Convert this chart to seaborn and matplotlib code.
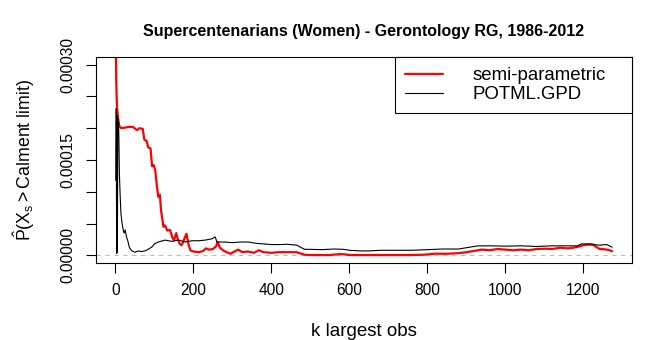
import numpy as np
import pandas as pd
import matplotlib
matplotlib.use("Agg")
import matplotlib.pyplot as plt
import seaborn as sns

# ---- data ----
k_semi = [1, 2, 3, 4, 6, 8, 10, 15, 25, 35, 45, 55, 62, 70, 74, 80, 84, 90, 94, 98,
          102, 106, 110, 114, 117, 120, 123, 127, 133, 140, 146, 150, 156, 160, 165,
          170, 176, 182, 187, 192, 200, 215, 225, 232, 240, 250, 258, 262, 268, 276,
          285, 295, 305, 315, 325, 340, 355, 368, 380, 400, 420, 440, 465, 485, 500,
          550, 575, 590, 600, 650, 700, 750, 790, 820, 850, 880, 900, 920, 940, 960,
          980, 1000, 1020, 1040, 1060, 1080, 1105, 1120, 1140, 1160, 1174, 1190, 1200,
          1215, 1225, 1242, 1255, 1265, 1274]
semi_parametric = [3.4e-4, 2.75e-4, 2.5e-4, 2.35e-4, 2.2e-4, 2.1e-4, 2.03e-4, 2.0e-4,
                   2.01e-4, 2.02e-4, 2.02e-4, 1.97e-4, 2.0e-4, 1.99e-4, 1.82e-4, 1.80e-4,
                   1.70e-4, 1.68e-4, 1.40e-4, 1.42e-4, 1.34e-4, 1.10e-4, 0.92e-4,
                   0.95e-4, 0.70e-4, 0.58e-4, 0.45e-4, 0.47e-4, 0.39e-4, 0.40e-4,
                   0.28e-4, 0.24e-4, 0.35e-4, 0.25e-4, 0.18e-4, 0.16e-4, 0.25e-4,
                   0.34e-4, 0.18e-4, 0.08e-4, 0.06e-4, 0.05e-4, 0.07e-4, 0.11e-4,
                   0.09e-4, 0.10e-4, 0.14e-4, 0.21e-4, 0.12e-4, 0.08e-4, 0.05e-4,
                   0.025e-4, 0.06e-4, 0.09e-4, 0.05e-4, 0.06e-4, 0.04e-4, 0.08e-4,
                   0.05e-4, 0.04e-4, 0.05e-4, 0.05e-4, 0.05e-4, 0.01e-4, 0.005e-4,
                   0.005e-4, 0.02e-4, 0.015e-4, 0.005e-4, 0.005e-4, 0.005e-4, 0.005e-4,
                   0.01e-4, 0.026e-4, 0.025e-4, 0.035e-4, 0.05e-4, 0.07e-4, 0.09e-4,
                   0.08e-4, 0.10e-4, 0.09e-4, 0.08e-4, 0.09e-4, 0.08e-4, 0.10e-4,
                   0.105e-4, 0.10e-4, 0.12e-4, 0.11e-4, 0.12e-4, 0.14e-4, 0.16e-4,
                   0.17e-4, 0.165e-4, 0.10e-4, 0.095e-4, 0.085e-4, 0.065e-4]

k_pot = [1, 2, 3, 4, 5, 6, 7, 8, 9, 10, 12, 14, 17, 20, 22, 25, 28, 32, 36, 42, 50,
         59, 65, 76, 85, 93, 100, 110, 127, 145, 162, 179, 196, 213, 230, 247, 256,
         260, 280, 300, 320, 341, 360, 380, 400, 426, 440, 465, 485, 500, 530, 560,
         585, 600, 630, 650, 680, 720, 760, 800, 840, 880, 900, 930, 960, 1000, 1040,
         1080, 1120, 1160, 1185, 1195, 1220, 1240, 1260, 1274]
potml_gpd = [1.18e-4, 2.31e-4, 0.03e-4, 2.2e-4, 0.05e-4, 2.15e-4, 1.9e-4, 2.1e-4,
             1.75e-4, 1.3e-4, 0.95e-4, 0.66e-4, 0.5e-4, 0.4e-4, 0.35e-4, 0.4e-4,
             0.3e-4, 0.22e-4, 0.12e-4, 0.07e-4, 0.05e-4, 0.07e-4, 0.06e-4, 0.07e-4,
             0.10e-4, 0.13e-4, 0.18e-4, 0.21e-4, 0.24e-4, 0.22e-4, 0.24e-4, 0.21e-4,
             0.23e-4, 0.23e-4, 0.24e-4, 0.26e-4, 0.29e-4, 0.21e-4, 0.21e-4, 0.20e-4,
             0.21e-4, 0.21e-4, 0.19e-4, 0.18e-4, 0.17e-4, 0.17e-4, 0.175e-4,
             0.16e-4, 0.095e-4, 0.095e-4, 0.09e-4, 0.10e-4, 0.095e-4, 0.08e-4,
             0.07e-4, 0.07e-4, 0.08e-4, 0.08e-4, 0.08e-4, 0.09e-4, 0.10e-4, 0.10e-4,
             0.12e-4, 0.15e-4, 0.15e-4, 0.145e-4, 0.15e-4, 0.14e-4, 0.15e-4,
             0.15e-4, 0.15e-4, 0.18e-4, 0.18e-4, 0.16e-4, 0.17e-4, 0.13e-4]

x_ticks = [0, 200, 400, 600, 800, 1000, 1200]
y_ticks = [0.0, 0.00005, 0.0001, 0.00015, 0.0002, 0.00025, 0.0003]
y_tick_labels = ["0.00000", "", "", "0.00015", "", "", "0.00030"]

title = "Supercentenarians (Women) - Gerontology RG, 1986-2012"
x_label = "k largest obs"
y_label = r"$\hat{\mathrm{P}}(\mathrm{X}_{\mathrm{s}} > \mathrm{Calment\ limit})$"
series_names = ["semi-parametric", "POTML.GPD"]

# ---- styling ----
sns.set_theme(style="white")
plt.rcParams["font.family"] = ["Liberation Sans", "DejaVu Sans"]
plt.rcParams["mathtext.fontset"] = "custom"
plt.rcParams["mathtext.rm"] = "Liberation Sans"
plt.rcParams["mathtext.it"] = "Liberation Sans:italic"
plt.rcParams["mathtext.bf"] = "Liberation Sans:bold"
plt.rcParams["text.color"] = "black"
plt.rcParams["axes.labelcolor"] = "black"
plt.rcParams["xtick.color"] = "black"
plt.rcParams["ytick.color"] = "black"

fig = plt.figure(figsize=(6.71, 3.40), dpi=100)
ax = fig.add_axes([96 / 671, 1 - 263 / 340, (632 - 96) / 671, (263 - 57) / 340])

df_semi = pd.DataFrame({"k": k_semi, "p": semi_parametric})
df_pot = pd.DataFrame({"k": k_pot, "p": potml_gpd})

ax.axhline(0, color="#BEBEBE", lw=0.8, ls=(0, (4, 4)), zorder=1)
sns.lineplot(data=df_semi, x="k", y="p", ax=ax, color="#FF0000", lw=1.6,
             estimator=None, sort=False, label=series_names[0], zorder=2)
sns.lineplot(data=df_pot, x="k", y="p", ax=ax, color="black", lw=0.8,
             estimator=None, sort=False, label=series_names[1], zorder=3)

xmin, xmax = min(k_semi), max(k_semi)
ax.set_xlim(xmin - 0.04 * (xmax - xmin), xmax + 0.04 * (xmax - xmin))
ax.set_ylim(-0.04 * 0.0003, 0.0003 * 1.04)

ax.set_xticks(x_ticks)
ax.set_xticklabels([str(t) for t in x_ticks])
ax.set_yticks(y_ticks)
ax.set_yticklabels(y_tick_labels, rotation=90, va="center")

for s in ax.spines.values():
    s.set_visible(True)
    s.set_color("black")
    s.set_linewidth(0.8)

ax.tick_params(axis="both", direction="out", length=7.2, width=0.8, color="black",
               labelsize=11.2, labelcolor="black", bottom=True, left=True)
ax.tick_params(axis="x", pad=7)
ax.tick_params(axis="y", pad=8)

ax.set_title(title, fontsize=11.5, fontweight="bold", pad=15, color="black")
ax.set_xlabel(x_label, fontsize=13.5, color="black")
ax.xaxis.set_label_coords(0.5, -0.29)
ax.set_ylabel(y_label, fontsize=12.8, color="black")
ax.yaxis.set_label_coords(-0.11, 0.5)

leg = ax.legend(loc="upper right", bbox_to_anchor=(0.5578, 0.0, 0.4422, 1.0),
                mode="expand", fontsize=13.4, frameon=True, fancybox=False,
                borderaxespad=0.0, borderpad=0.55, labelspacing=0.1,
                handlelength=2.05, handletextpad=1.55)
leg.get_frame().set_edgecolor("black")
leg.get_frame().set_linewidth(0.8)
leg.get_frame().set_alpha(1)
for t in leg.get_texts():
    t.set_color("black")

fig.savefig("out.png", dpi=100, facecolor="white")
